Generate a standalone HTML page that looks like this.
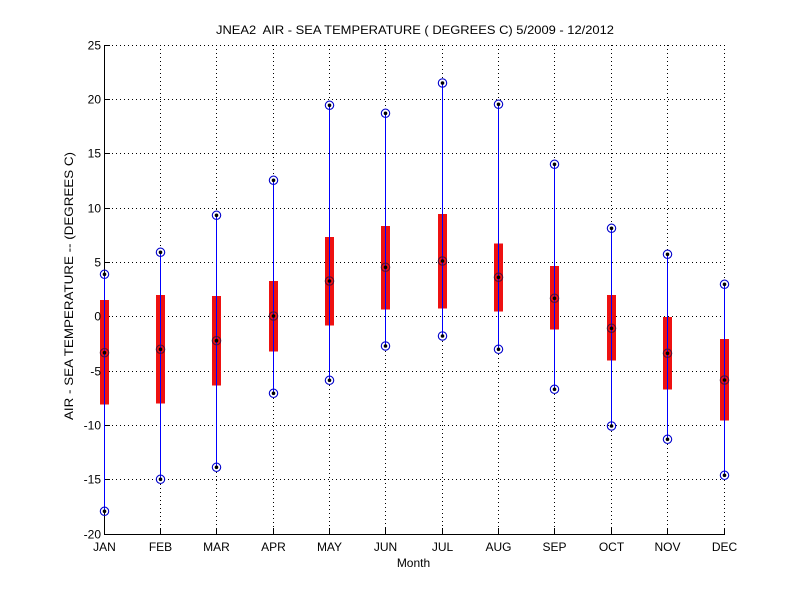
<!DOCTYPE html>
<html>
<head>
<meta charset="utf-8">
<style>
  html,body{margin:0;padding:0;background:#ffffff;}
  svg{display:block;}
  text{font-family:"Liberation Sans", Arial, sans-serif;fill:#000;}
</style>
</head>
<body>
<svg width="800" height="600" viewBox="0 0 800 600" xmlns="http://www.w3.org/2000/svg">
  <rect x="0" y="0" width="800" height="600" fill="#ffffff"/>

  <!-- dotted grid: horizontal -->
  <g stroke="#000" stroke-width="1" stroke-dasharray="1,3" fill="none" shape-rendering="crispEdges">
    <line x1="104" y1="45.5" x2="724" y2="45.5"/>
    <line x1="104" y1="99.5" x2="724" y2="99.5"/>
    <line x1="104" y1="153.5" x2="724" y2="153.5"/>
    <line x1="104" y1="208.5" x2="724" y2="208.5"/>
    <line x1="104" y1="262.5" x2="724" y2="262.5"/>
    <line x1="104" y1="316.5" x2="724" y2="316.5"/>
    <line x1="104" y1="371.5" x2="724" y2="371.5"/>
    <line x1="104" y1="425.5" x2="724" y2="425.5"/>
    <line x1="104" y1="479.5" x2="724" y2="479.5"/>
    <!-- vertical (segments avoiding whiskers) -->
    <line x1="160.5" y1="45" x2="160.5" y2="248"/><line x1="160.5" y1="484" x2="160.5" y2="534"/>
    <line x1="216.5" y1="45" x2="216.5" y2="211"/><line x1="216.5" y1="472" x2="216.5" y2="534"/>
    <line x1="273.5" y1="45" x2="273.5" y2="176"/><line x1="273.5" y1="398" x2="273.5" y2="534"/>
    <line x1="329.5" y1="45" x2="329.5" y2="101"/><line x1="329.5" y1="385" x2="329.5" y2="534"/>
    <line x1="385.5" y1="45" x2="385.5" y2="109"/><line x1="385.5" y1="351" x2="385.5" y2="534"/>
    <line x1="442.5" y1="45" x2="442.5" y2="78"/><line x1="442.5" y1="341" x2="442.5" y2="534"/>
    <line x1="498.5" y1="45" x2="498.5" y2="100"/><line x1="498.5" y1="354" x2="498.5" y2="534"/>
    <line x1="554.5" y1="45" x2="554.5" y2="160"/><line x1="554.5" y1="394" x2="554.5" y2="534"/>
    <line x1="611.5" y1="45" x2="611.5" y2="224"/><line x1="611.5" y1="431" x2="611.5" y2="534"/>
    <line x1="667.5" y1="45" x2="667.5" y2="250"/><line x1="667.5" y1="444" x2="667.5" y2="534"/>
    <line x1="724.5" y1="45" x2="724.5" y2="280"/><line x1="724.5" y1="480" x2="724.5" y2="534"/>
  </g>

  <!-- axes -->
  <g stroke="#000" stroke-width="1" fill="none" shape-rendering="crispEdges">
    <line x1="104.5" y1="45" x2="104.5" y2="535"/>
    <line x1="104" y1="534.5" x2="725" y2="534.5"/>
    <!-- y ticks -->
    <line x1="104" y1="45.5" x2="110" y2="45.5"/>
    <line x1="104" y1="99.5" x2="110" y2="99.5"/>
    <line x1="104" y1="153.5" x2="110" y2="153.5"/>
    <line x1="104" y1="208.5" x2="110" y2="208.5"/>
    <line x1="104" y1="262.5" x2="110" y2="262.5"/>
    <line x1="104" y1="316.5" x2="110" y2="316.5"/>
    <line x1="104" y1="371.5" x2="110" y2="371.5"/>
    <line x1="104" y1="425.5" x2="110" y2="425.5"/>
    <line x1="104" y1="479.5" x2="110" y2="479.5"/>
    <!-- x ticks -->
    <line x1="160.5" y1="528" x2="160.5" y2="534"/>
    <line x1="216.5" y1="528" x2="216.5" y2="534"/>
    <line x1="273.5" y1="528" x2="273.5" y2="534"/>
    <line x1="329.5" y1="528" x2="329.5" y2="534"/>
    <line x1="385.5" y1="528" x2="385.5" y2="534"/>
    <line x1="442.5" y1="528" x2="442.5" y2="534"/>
    <line x1="498.5" y1="528" x2="498.5" y2="534"/>
    <line x1="554.5" y1="528" x2="554.5" y2="534"/>
    <line x1="611.5" y1="528" x2="611.5" y2="534"/>
    <line x1="667.5" y1="528" x2="667.5" y2="534"/>
    <line x1="724.5" y1="528" x2="724.5" y2="534"/>
  </g>

  <!-- red boxes (q1..q3) -->
  <g fill="#ee1111" shape-rendering="crispEdges">
    <rect x="100" y="300" width="9" height="104.3"/>
    <rect x="156" y="295" width="9" height="108.3"/>
    <rect x="212" y="296" width="9" height="89.3"/>
    <rect x="269" y="281" width="9" height="70.7"/>
    <rect x="325" y="237" width="9" height="88.7"/>
    <rect x="381" y="226" width="9" height="83.7"/>
    <rect x="438" y="214" width="9" height="94.3"/>
    <rect x="494" y="243.3" width="9" height="68.4"/>
    <rect x="550" y="266" width="9" height="63.7"/>
    <rect x="607" y="295" width="9" height="65.7"/>
    <rect x="663" y="317" width="9" height="72.7"/>
    <rect x="720" y="339" width="9" height="81.3"/>
  </g>

  <!-- blue whisker lines (min..max) -->
  <g stroke="#0000ff" stroke-width="1" fill="none" shape-rendering="crispEdges">
    <line x1="104.5" y1="274.3" x2="104.5" y2="511.3"/>
    <line x1="160.5" y1="252.3" x2="160.5" y2="479.3"/>
    <line x1="216.5" y1="215.3" x2="216.5" y2="467.3"/>
    <line x1="273.5" y1="180.3" x2="273.5" y2="393.3"/>
    <line x1="329.5" y1="105.3" x2="329.5" y2="380.3"/>
    <line x1="385.5" y1="113.3" x2="385.5" y2="346"/>
    <line x1="442.5" y1="83" x2="442.5" y2="336"/>
    <line x1="498.5" y1="104.3" x2="498.5" y2="349.3"/>
    <line x1="554.5" y1="164.3" x2="554.5" y2="389.3"/>
    <line x1="611.5" y1="228.3" x2="611.5" y2="426"/>
    <line x1="667.5" y1="254.3" x2="667.5" y2="439.3"/>
    <line x1="724.5" y1="284.3" x2="724.5" y2="475.3"/>
  </g>

  <!-- circle markers -->
  <g stroke="#0000cc" stroke-width="1.1" fill="none">
    <circle cx="104.5" cy="274.3" r="4.2"/><circle cx="104.5" cy="352.7" r="4.2" stroke="#551133"/><circle cx="104.5" cy="511.3" r="4.2"/>
    <circle cx="160.5" cy="252.3" r="4.2"/><circle cx="160.5" cy="349.3" r="4.2" stroke="#551133"/><circle cx="160.5" cy="479.3" r="4.2"/>
    <circle cx="216.5" cy="215.3" r="4.2"/><circle cx="216.5" cy="340.7" r="4.2" stroke="#551133"/><circle cx="216.5" cy="467.3" r="4.2"/>
    <circle cx="273.5" cy="180.3" r="4.2"/><circle cx="273.5" cy="316" r="4.2" stroke="#551133"/><circle cx="273.5" cy="393.3" r="4.2"/>
    <circle cx="329.5" cy="105.3" r="4.2"/><circle cx="329.5" cy="281" r="4.2" stroke="#551133"/><circle cx="329.5" cy="380.3" r="4.2"/>
    <circle cx="385.5" cy="113.3" r="4.2"/><circle cx="385.5" cy="267.3" r="4.2" stroke="#551133"/><circle cx="385.5" cy="346" r="4.2"/>
    <circle cx="442.5" cy="83" r="4.2"/><circle cx="442.5" cy="261" r="4.2" stroke="#551133"/><circle cx="442.5" cy="336" r="4.2"/>
    <circle cx="498.5" cy="104.3" r="4.2"/><circle cx="498.5" cy="277.3" r="4.2" stroke="#551133"/><circle cx="498.5" cy="349.3" r="4.2"/>
    <circle cx="554.5" cy="164.3" r="4.2"/><circle cx="554.5" cy="298.3" r="4.2" stroke="#551133"/><circle cx="554.5" cy="389.3" r="4.2"/>
    <circle cx="611.5" cy="228.3" r="4.2"/><circle cx="611.5" cy="328.3" r="4.2" stroke="#551133"/><circle cx="611.5" cy="426" r="4.2"/>
    <circle cx="667.5" cy="254.3" r="4.2"/><circle cx="667.5" cy="353.3" r="4.2" stroke="#551133"/><circle cx="667.5" cy="439.3" r="4.2"/>
    <circle cx="724.5" cy="284.3" r="4.2"/><circle cx="724.5" cy="380" r="4.2" stroke="#551133"/><circle cx="724.5" cy="475.3" r="4.2"/>
  </g>
  <!-- black center dots -->
  <g fill="#000">
    <circle cx="104.5" cy="274.3" r="1.8"/><circle cx="104.5" cy="352.7" r="1.8"/><circle cx="104.5" cy="511.3" r="1.8"/>
    <circle cx="160.5" cy="252.3" r="1.8"/><circle cx="160.5" cy="349.3" r="1.8"/><circle cx="160.5" cy="479.3" r="1.8"/>
    <circle cx="216.5" cy="215.3" r="1.8"/><circle cx="216.5" cy="340.7" r="1.8"/><circle cx="216.5" cy="467.3" r="1.8"/>
    <circle cx="273.5" cy="180.3" r="1.8"/><circle cx="273.5" cy="316" r="1.8"/><circle cx="273.5" cy="393.3" r="1.8"/>
    <circle cx="329.5" cy="105.3" r="1.8"/><circle cx="329.5" cy="281" r="1.8"/><circle cx="329.5" cy="380.3" r="1.8"/>
    <circle cx="385.5" cy="113.3" r="1.8"/><circle cx="385.5" cy="267.3" r="1.8"/><circle cx="385.5" cy="346" r="1.8"/>
    <circle cx="442.5" cy="83" r="1.8"/><circle cx="442.5" cy="261" r="1.8"/><circle cx="442.5" cy="336" r="1.8"/>
    <circle cx="498.5" cy="104.3" r="1.8"/><circle cx="498.5" cy="277.3" r="1.8"/><circle cx="498.5" cy="349.3" r="1.8"/>
    <circle cx="554.5" cy="164.3" r="1.8"/><circle cx="554.5" cy="298.3" r="1.8"/><circle cx="554.5" cy="389.3" r="1.8"/>
    <circle cx="611.5" cy="228.3" r="1.8"/><circle cx="611.5" cy="328.3" r="1.8"/><circle cx="611.5" cy="426" r="1.8"/>
    <circle cx="667.5" cy="254.3" r="1.8"/><circle cx="667.5" cy="353.3" r="1.8"/><circle cx="667.5" cy="439.3" r="1.8"/>
    <circle cx="724.5" cy="284.3" r="1.8"/><circle cx="724.5" cy="380" r="1.8"/><circle cx="724.5" cy="475.3" r="1.8"/>
  </g>

  <!-- y tick labels -->
  <g font-size="12" text-anchor="end">
    <text x="101" y="49.5">25</text>
    <text x="101" y="103.5">20</text>
    <text x="101" y="157.5">15</text>
    <text x="101" y="212.5">10</text>
    <text x="101" y="266.5">5</text>
    <text x="101" y="320.5">0</text>
    <text x="101" y="375.5">-5</text>
    <text x="101" y="429.5">-10</text>
    <text x="101" y="483.5">-15</text>
    <text x="101" y="538.5">-20</text>
  </g>

  <!-- x tick labels -->
  <g font-size="12" text-anchor="middle">
    <text x="104.5" y="551">JAN</text>
    <text x="160.5" y="551">FEB</text>
    <text x="216.5" y="551">MAR</text>
    <text x="273.5" y="551">APR</text>
    <text x="329.5" y="551">MAY</text>
    <text x="385.5" y="551">JUN</text>
    <text x="442.5" y="551">JUL</text>
    <text x="498.5" y="551">AUG</text>
    <text x="554.5" y="551">SEP</text>
    <text x="611.5" y="551">OCT</text>
    <text x="667.5" y="551">NOV</text>
    <text x="724.5" y="551">DEC</text>
  </g>

  <!-- title -->
  <text x="216" y="34" font-size="12" textLength="398" lengthAdjust="spacingAndGlyphs" xml:space="preserve">JNEA2  AIR - SEA TEMPERATURE ( DEGREES C) 5/2009 - 12/2012</text>

  <!-- x label -->
  <text x="413.5" y="567" font-size="12" text-anchor="middle">Month</text>

  <!-- y label -->
  <text transform="translate(73,420) rotate(-90)" x="0" y="0" font-size="12" textLength="268" lengthAdjust="spacingAndGlyphs">AIR - SEA TEMPERATURE -- (DEGREES C)</text>
</svg>
</body>
</html>
